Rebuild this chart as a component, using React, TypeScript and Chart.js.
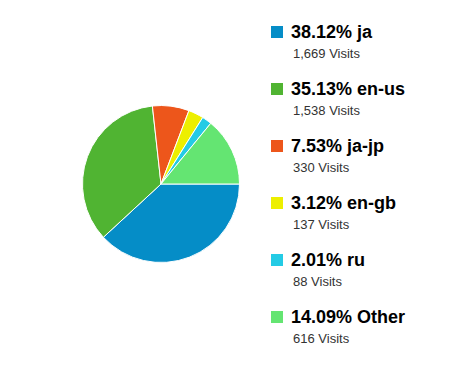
import React, { useEffect, useRef } from "react";
import { Chart, registerables } from "chart.js";

Chart.register(...registerables);

const categories = ["ja", "en-us", "ja-jp", "en-gb", "ru", "Other"];
const visits = [1669, 1538, 330, 137, 88, 616];
const percentLabels = ["38.12%", "35.13%", "7.53%", "3.12%", "2.01%", "14.09%"];
const colors = ["#058DC7", "#50B432", "#ED561B", "#EDEF00", "#24CBE5", "#64E572"];

const FONT = '"Liberation Sans", Arial, Helvetica, sans-serif';

export default function App() {
  const canvasRef = useRef<HTMLCanvasElement | null>(null);

  useEffect(() => {
    document.body.style.margin = "0";
    const canvas = canvasRef.current;
    if (!canvas) return;
    const chart = new Chart(canvas, {
      type: "pie",
      data: {
        labels: categories,
        datasets: [
          {
            data: visits,
            backgroundColor: colors,
            borderColor: "#ffffff",
            borderWidth: 1,
          },
        ],
      },
      options: {
        responsive: false,
        animation: false,
        rotation: 90,
        layout: { padding: 0 },
        plugins: {
          legend: { display: false },
          tooltip: { enabled: false },
        },
      },
    });
    return () => chart.destroy();
  }, []);

  const rowStep = 57;

  return (
    <div
      style={{
        position: "relative",
        width: 474,
        height: 373,
        background: "#ffffff",
        overflow: "hidden",
        fontFamily: FONT,
      }}
    >
      <canvas
        ref={canvasRef}
        width={158}
        height={158}
        style={{ position: "absolute", left: 82, top: 105, width: 158, height: 158 }}
      />
      {categories.map((cat, i) => {
        const titleBase = 38.3 + rowStep * i;
        const visitsBase = 58.3 + rowStep * i;
        return (
          <React.Fragment key={cat}>
            <div
              style={{
                position: "absolute",
                left: 271,
                top: Math.round(titleBase) - 12,
                width: 12,
                height: 12,
                background: colors[i],
              }}
            />
            <div
              style={{
                position: "absolute",
                left: 291,
                top: titleBase - 15.25,
                fontSize: 18,
                lineHeight: "18px",
                fontWeight: "bold",
                color: "#000",
                whiteSpace: "nowrap",
              }}
            >
              {percentLabels[i]} {cat}
            </div>
            <div
              style={{
                position: "absolute",
                left: 293,
                top: visitsBase - 11,
                fontSize: 13,
                lineHeight: "13px",
                color: "#333",
                whiteSpace: "nowrap",
              }}
            >
              {visits[i].toLocaleString("en-US")} Visits
            </div>
          </React.Fragment>
        );
      })}
    </div>
  );
}
